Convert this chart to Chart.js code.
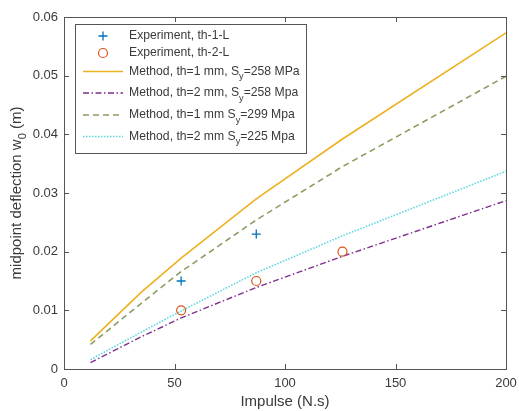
<!DOCTYPE html>
<html><head><meta charset="utf-8">
<script src="https://cdn.jsdelivr.net/npm/chart.js@4"></script>
<style>html,body{margin:0;padding:0;background:#fff}</style>
</head><body>
<canvas id="c" width="519" height="411"></canvas>
<script>
// ---- data ----
const impulse = [12, 35, 53, 87, 126, 200];
const th1Sy258 = [0.0048, 0.0131, 0.0189, 0.0290, 0.0392, 0.0573];
const th2Sy258 = [0.0011, 0.0055, 0.0087, 0.0139, 0.0192, 0.0287];
const th1Sy299 = [0.0042, 0.0112, 0.0166, 0.0254, 0.0345, 0.0499];
const th2Sy225 = [0.0016, 0.0063, 0.0099, 0.0164, 0.0227, 0.0337];
const expImpulse1 = [53, 87];
const expTh1 = [0.015, 0.023];
const expImpulse2 = [53, 87, 126];
const expTh2 = [0.010, 0.015, 0.020];
const xTicks = [0, 50, 100, 150, 200];
const yTicks = [0, 0.01, 0.02, 0.03, 0.04, 0.05, 0.06];
const seriesNames = [
  "Experiment, th-1-L",
  "Experiment, th-2-L",
  "Method, th=1 mm, S_y=258 MPa",
  "Method, th=2 mm, S_y=258 Mpa",
  "Method, th=1 mm S_y=299 Mpa",
  "Method, th=2 mm S_y=225 Mpa"
];
const xTitle = "Impulse (N.s)";
const yTitle = ["midpoint deflection w", "0", " (m)"];

const FONT = '"Liberation Sans", Arial, Helvetica, sans-serif';
const AXC = '#555555';
const TXT = '#3a3a3a';
const colors = ['#0072BD', '#D95319', '#EDB120', '#7E2F8E', '#8a9e62', '#5cd6df'];
const dashes = [[], [], [], [6, 2.5, 1.5, 2.5], [6, 4], [1.5, 1.5]];

const pts = (xs, ys) => xs.map((x, i) => ({x: x, y: ys[i]}));

const datasets = [
  {data: pts(expImpulse1, expTh1), showLine: false, pointStyle: 'cross', pointRadius: 4.5, borderColor: colors[0], backgroundColor: colors[0], pointBorderWidth: 1.3},
  {data: pts(expImpulse2, expTh2), showLine: false, pointStyle: 'circle', pointRadius: 4.5, borderColor: colors[1], backgroundColor: 'rgba(0,0,0,0)', pointBorderWidth: 1.2},
  {data: pts(impulse, th1Sy258), borderColor: colors[2], borderWidth: 1.6, pointRadius: 0, borderDash: dashes[2]},
  {data: pts(impulse, th2Sy258), borderColor: colors[3], borderWidth: 1.4, pointRadius: 0, borderDash: dashes[3]},
  {data: pts(impulse, th1Sy299), borderColor: colors[4], borderWidth: 1.6, pointRadius: 0, borderDash: dashes[4]},
  {data: pts(impulse, th2Sy225), borderColor: colors[5], borderWidth: 1.6, pointRadius: 0, borderDash: dashes[5]}
];

function drawRich(ctx, x, y, text, size) {
  const parts = text.split('_');
  let cx = x;
  parts.forEach((p, i) => {
    if (i > 0) {
      const sub = p[0];
      ctx.font = (size * 0.75) + 'px ' + FONT;
      ctx.fillText(sub, cx, y + size * 0.42);
      cx += ctx.measureText(sub).width;
      p = p.slice(1);
    }
    ctx.font = size + 'px ' + FONT;
    ctx.fillText(p, cx, y);
    cx += ctx.measureText(p).width;
  });
}

const decor = {
  id: 'decor',
  afterDraw(chart) {
    const ctx = chart.ctx;
    const a = chart.chartArea;
    const xs = chart.scales.x, ys = chart.scales.y;
    ctx.save();
    ctx.strokeStyle = AXC; ctx.lineWidth = 1; ctx.setLineDash([]);
    ctx.strokeRect(Math.round(a.left) + 0.5, Math.round(a.top) + 0.5, Math.round(a.right - a.left), Math.round(a.bottom - a.top));
    const TL = 5;
    ctx.beginPath();
    xTicks.forEach(v => {
      const px = Math.round(xs.getPixelForValue(v)) + 0.5;
      ctx.moveTo(px, a.bottom); ctx.lineTo(px, a.bottom - TL);
      ctx.moveTo(px, a.top); ctx.lineTo(px, a.top + TL);
    });
    yTicks.forEach(v => {
      const py = Math.round(ys.getPixelForValue(v)) + 0.5;
      ctx.moveTo(a.left, py); ctx.lineTo(a.left + TL, py);
      ctx.moveTo(a.right, py); ctx.lineTo(a.right - TL, py);
    });
    ctx.stroke();
    ctx.fillStyle = TXT;
    ctx.textBaseline = 'middle';
    ctx.textAlign = 'center';
    ctx.font = '15px ' + FONT;
    ctx.fillText(xTitle, (a.left + a.right) / 2, 402);
    ctx.save();
    ctx.translate(17, (a.top + a.bottom) / 2);
    ctx.rotate(-Math.PI / 2);
    ctx.textAlign = 'left';
    ctx.font = '15px ' + FONT;
    const w1 = ctx.measureText(yTitle[0]).width;
    ctx.font = '11px ' + FONT;
    const w2 = ctx.measureText(yTitle[1]).width;
    ctx.font = '15px ' + FONT;
    const w3 = ctx.measureText(yTitle[2]).width;
    let sx = -(w1 + w2 + w3) / 2;
    ctx.fillText(yTitle[0], sx, 0);
    ctx.font = '11px ' + FONT;
    ctx.fillText(yTitle[1], sx + w1, 6);
    ctx.font = '15px ' + FONT;
    ctx.fillText(yTitle[2], sx + w1 + w2, 0);
    ctx.restore();
    const L = 75, T = 24, R = 306, B = 153;
    ctx.fillStyle = '#ffffff';
    ctx.fillRect(L, T, R - L, B - T);
    ctx.strokeStyle = AXC; ctx.lineWidth = 1;
    ctx.strokeRect(L + 0.5, T + 0.5, R - L, B - T);
    const rows = [36, 53, 71.5, 93, 115, 136.5];
    rows.forEach((ry, i) => {
      ctx.strokeStyle = colors[i];
      ctx.setLineDash([]);
      if (i === 0) {
        ctx.lineWidth = 1.3;
        ctx.beginPath();
        ctx.moveTo(103 - 4.5, ry); ctx.lineTo(103 + 4.5, ry);
        ctx.moveTo(103, ry - 4.5); ctx.lineTo(103, ry + 4.5);
        ctx.stroke();
      } else if (i === 1) {
        ctx.lineWidth = 1.2;
        ctx.beginPath(); ctx.arc(103, ry, 4.5, 0, Math.PI * 2); ctx.stroke();
      } else {
        ctx.lineWidth = datasets[i].borderWidth;
        ctx.setLineDash(dashes[i]);
        ctx.beginPath(); ctx.moveTo(83, ry); ctx.lineTo(123, ry); ctx.stroke();
        ctx.setLineDash([]);
      }
      ctx.fillStyle = TXT;
      ctx.textAlign = 'left';
      ctx.textBaseline = 'middle';
      drawRich(ctx, 129, ry, seriesNames[i], 12.2);
    });
    ctx.restore();
  }
};

new Chart(document.getElementById('c'), {
  type: 'line',
  data: {datasets: datasets},
  options: {
    responsive: false,
    animation: false,
    devicePixelRatio: 1,
    layout: {padding: {top: 17, right: 13, left: 0, bottom: 0}},
    plugins: {legend: {display: false}, tooltip: {enabled: false}},
    elements: {line: {tension: 0}},
    scales: {
      x: {
        type: 'linear', min: 0, max: 200,
        afterBuildTicks: s => { s.ticks = xTicks.map(v => ({value: v})); },
        afterFit: s => { s.height = 42; s.paddingLeft = 0; s.paddingRight = 0; },
        grid: {display: false, drawTicks: false},
        border: {display: false},
        ticks: {padding: 7, color: TXT, font: {family: FONT, size: 13}, maxRotation: 0, callback: v => String(v)}
      },
      y: {
        type: 'linear', min: 0, max: 0.06,
        afterBuildTicks: s => { s.ticks = yTicks.map(v => ({value: v})); },
        afterFit: s => { s.width = 64; s.paddingTop = 0; s.paddingBottom = 0; },
        grid: {display: false, drawTicks: false},
        border: {display: false},
        ticks: {padding: 6, color: TXT, font: {family: FONT, size: 13}, callback: v => String(+v.toFixed(2))}
      }
    }
  },
  plugins: [decor]
});
</script>
</body></html>
